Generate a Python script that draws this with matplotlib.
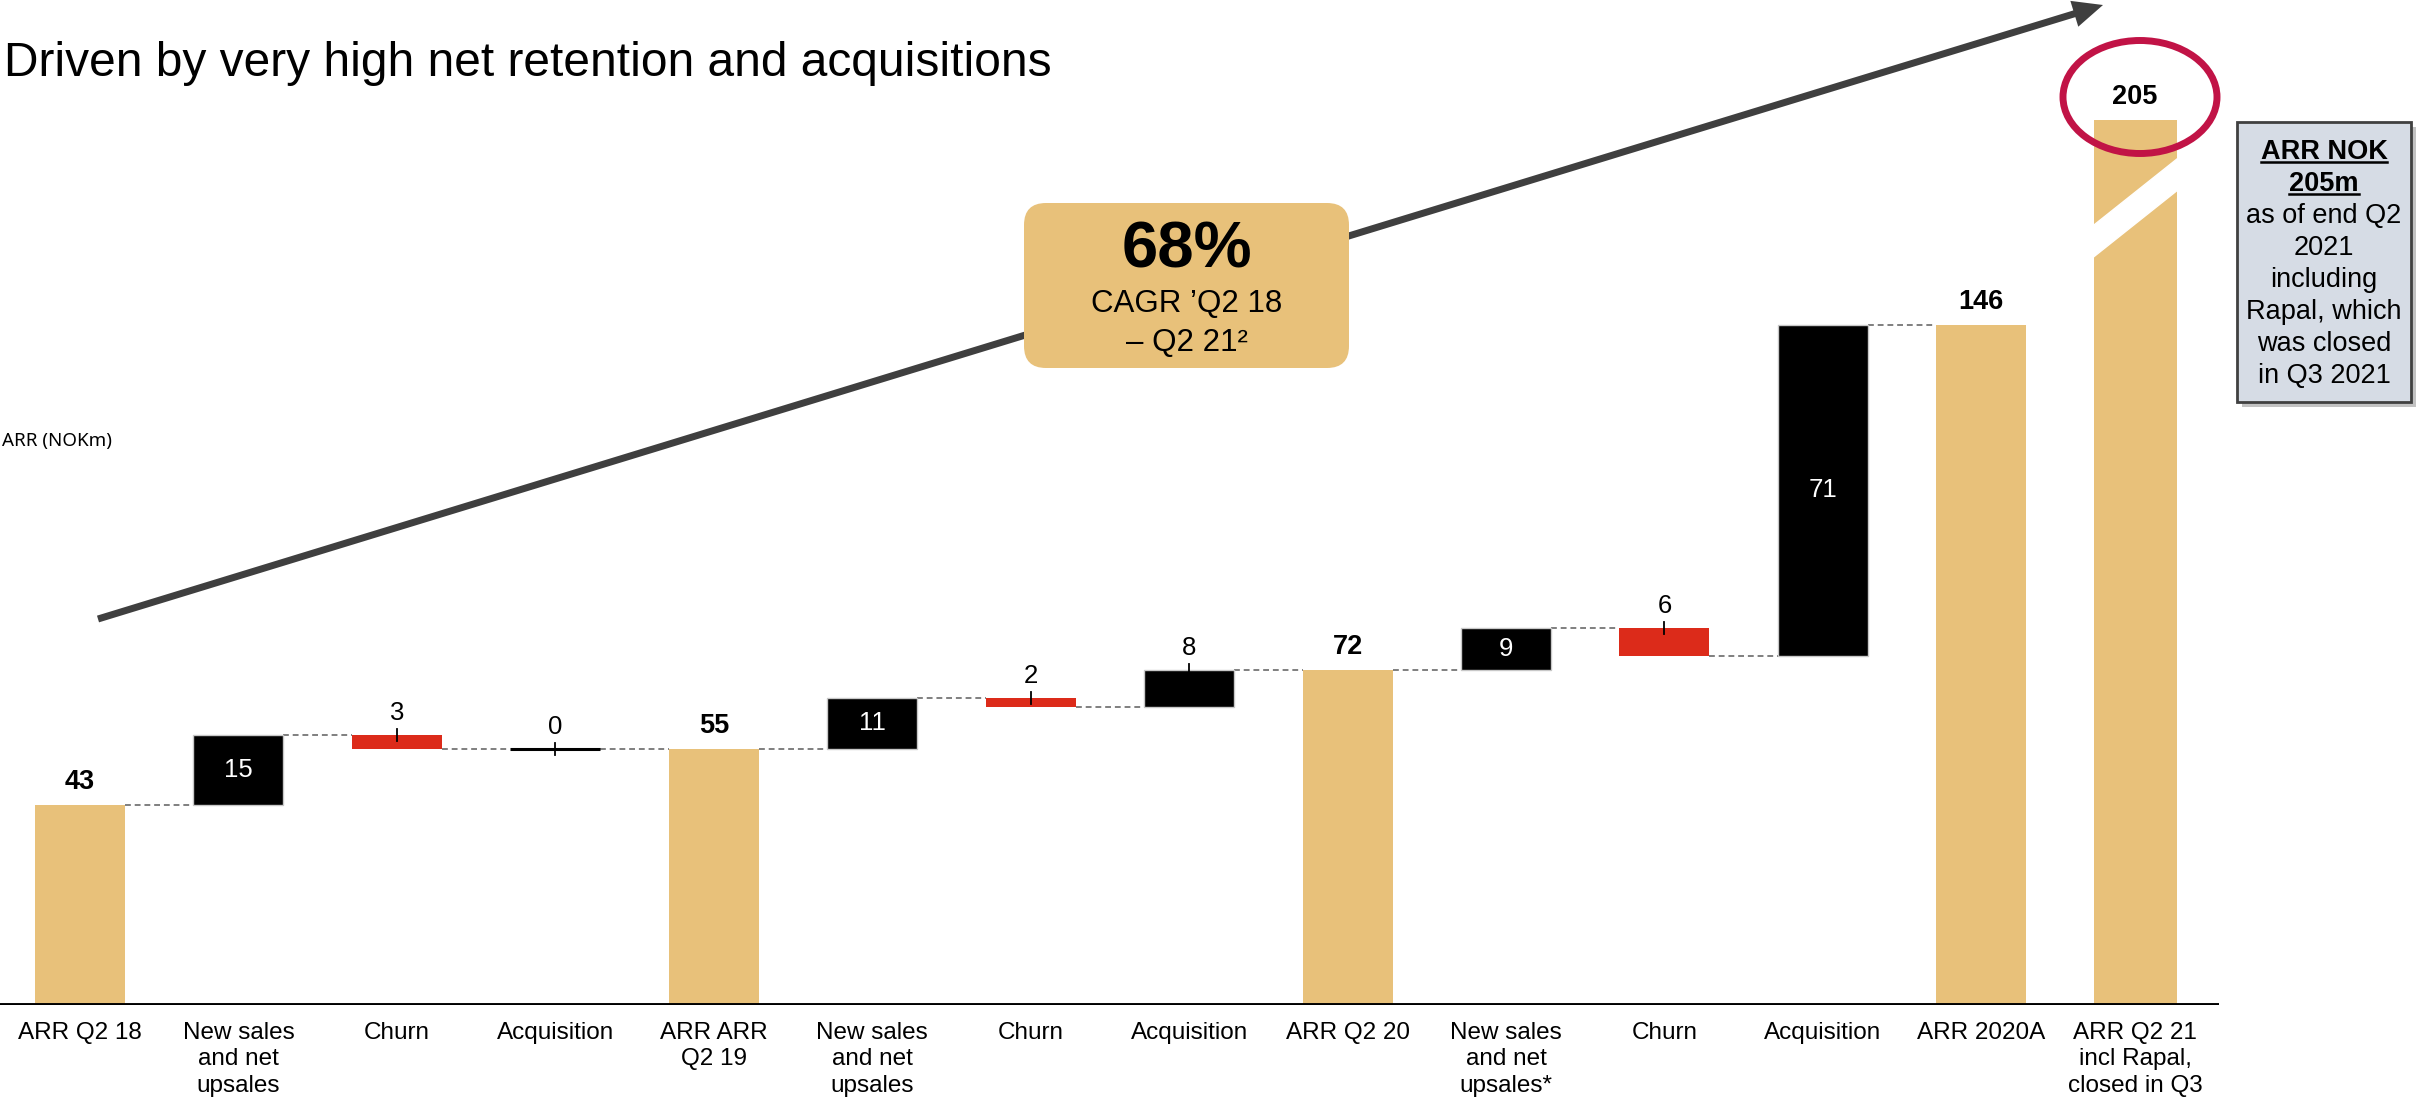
import numpy as np
import matplotlib.pyplot as plt
from matplotlib.patches import FancyBboxPatch, Ellipse, Polygon, Rectangle, FancyArrow

plt.rcParams['font.family'] = ['Liberation Sans', 'DejaVu Sans']

# ARR bridge, NOKm
categories = ["ARR Q2 18", "New sales\nand net\nupsales", "Churn", "Acquisition",
              "ARR ARR\nQ2 19", "New sales\nand net\nupsales", "Churn", "Acquisition",
              "ARR Q2 20", "New sales\nand net\nupsales*", "Churn", "Acquisition",
              "ARR 2020A", "ARR Q2 21\nincl Rapal,\nclosed in Q3"]
values = [43, 15, -3, 0, 55, 11, -2, 8, 72, 9, -6, 71, 146, 205]
kinds = ["total", "up", "down", "up", "total", "up", "down", "up",
         "total", "up", "down", "up", "total", "total"]
label_inside = [False, True, False, False, False, True, False, False,
                False, True, False, True, False, False]

info_lines = ["ARR NOK", "205m", "as of end Q2", "2021", "including",
              "Rapal, which", "was closed", "in Q3 2021"]

GOLD = "#E8C17A"
RED = "#DC2B1A"
BLACK = "#000000"
AXIS_CAP = 190      # last bar is drawn broken at this height

xpos = list(range(13)) + [12.97]
widths = [0.568] * 13 + [0.524]

fig = plt.figure(figsize=(24.17, 11.11), dpi=100)
ax = fig.add_axes([0, 106 / 1111, 2219 / 2417, 1005 / 1111])

level = 0
levels_after = []
for i, (x, v, k, w) in enumerate(zip(xpos, values, kinds, widths)):
    if k == "total":
        bottom, top = 0, min(v, AXIS_CAP)
        level = v
        color = GOLD
    else:
        bottom = level if v >= 0 else level + v
        top = level + v if v >= 0 else level
        level = level + v
        color = BLACK if k == "up" else RED
    levels_after.append(level)
    h = top - bottom
    if k != "total" and v == 0:
        ax.hlines(level, x - w / 2, x + w / 2, color=BLACK, lw=2.2, zorder=3)
    else:
        ec = "#c8c8c8" if k == "up" else "none"
        ax.bar(x, h, bottom=bottom, width=w, color=color, edgecolor=ec,
               linewidth=1.0, zorder=3)

    # value labels
    if k == "total":
        ax.annotate(str(v), (x, top), xytext=(0, 7), textcoords="offset points",
                    ha="center", va="bottom", fontsize=19.5, fontweight="bold")
    elif label_inside[i]:
        ax.text(x, (bottom + top) / 2, str(abs(v)), ha="center", va="center",
                fontsize=18.5, color="white", zorder=4)
    else:
        ax.plot([x, x], [top + 1.2, top - 1.4], color=BLACK, lw=1.3, zorder=4)
        ax.annotate(str(abs(v)), (x, top + 1.2), xytext=(0, 3),
                    textcoords="offset points", ha="center", va="bottom",
                    fontsize=18.5)

# dashed connectors between consecutive bars
for i in range(12):
    lv = levels_after[i]
    ax.plot([xpos[i] + widths[i] / 2, xpos[i + 1] - widths[i + 1] / 2], [lv, lv],
            color="#7f7f7f", lw=1.4, ls=(0, (3, 2)), zorder=2)

# axis break on the last bar
xl = xpos[-1] - widths[-1] / 2 - 0.03
xr = xpos[-1] + widths[-1] / 2 + 0.03
ax.add_patch(Polygon([(xl, 159.8), (xr, 175.6), (xr, 182.4), (xl, 166.6)],
                     closed=True, color="white", zorder=5))

ax.axhline(0, color=BLACK, lw=2.8, zorder=6)
ax.set_xlim(-0.505, 13.5)
ax.set_ylim(0, 215.8)
ax.set_xticks(xpos, categories, fontsize=17.5, linespacing=1.27)
ax.tick_params(axis="x", length=0, pad=12)
ax.set_yticks([])
for s in ax.spines.values():
    s.set_visible(False)
ax.patch.set_alpha(0)

# overlay in pixel units for annotations
ov = fig.add_axes([0, 0, 1, 1])
ov.set_xlim(0, 2417)
ov.set_ylim(1111, 0)
ov.axis("off")
ov.patch.set_alpha(0)

ov.text(4, 63, "Driven by very high net retention and acquisitions",
        fontsize=34.5, va="center", ha="left")
ov.text(2, 441, "ARR (NOKm)", fontsize=13.5, va="center", ha="left",
        family=["Noto Sans", "DejaVu Sans"])

ov.add_patch(FancyArrow(98, 619, 2103 - 98, 5 - 619, width=7, head_width=27,
                        head_length=30, length_includes_head=True,
                        color="#3F3F3F", lw=0))

ov.add_patch(FancyBboxPatch((1038, 217), 297, 137,
                            boxstyle="round,pad=14,rounding_size=22",
                            fc=GOLD, ec="none"))
ov.text(1187, 250, "68%", fontsize=47, fontweight="bold", ha="center", va="center")
ov.text(1187, 304, "CAGR \u2019Q2 18", fontsize=22.5, ha="center", va="center")
ov.text(1187, 343, "\u2013 Q2 21\u00b2", fontsize=22.5, ha="center", va="center")

ov.add_patch(Ellipse((2140, 97), 154, 113, fill=False, ec="#C11346", lw=5))

ov.add_patch(Rectangle((2242, 127), 174, 280, fc="#9a9a9a", ec="none", alpha=0.6))
ov.add_patch(Rectangle((2237, 122), 174, 280, fc="#D6DCE5", ec="#404040", lw=2))
bold_texts = []
for j, line in enumerate(info_lines):
    bold = j < 2
    t = ov.text(2324, 152 + 32 * j, line, fontsize=19.5, ha="center", va="center",
                fontweight="bold" if bold else "normal")
    if bold:
        bold_texts.append(t)

fig.canvas.draw()
renderer = fig.canvas.get_renderer()
inv = ov.transData.inverted()
for t in bold_texts:
    bb = t.get_window_extent(renderer)
    (x0, y0), (x1, _) = inv.transform([(bb.x0, bb.y0), (bb.x1, bb.y1)])
    ov.plot([x0, x1], [y0 - 3, y0 - 3], color=BLACK, lw=1.8)

fig.savefig("out.png", dpi=100)
